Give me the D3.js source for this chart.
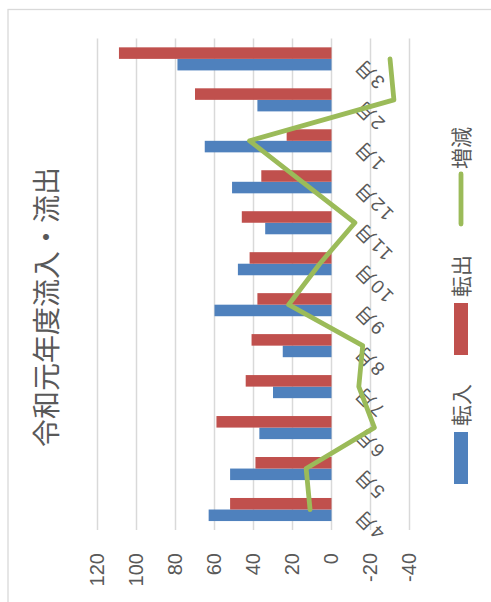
<!DOCTYPE html>
<html><head><meta charset="utf-8">
<script src="https://cdn.jsdelivr.net/npm/d3@7"></script>
<style>html,body{margin:0;padding:0;background:#fff;overflow:hidden}</style>
</head><body>
<svg id="c" width="491" height="602"></svg>
<script>
const months = ["4月","5月","6月","7月","8月","9月","10月","11月","12月","1月","2月","3月"];
const tennyu = [63,52,37,30,25,60,48,34,51,65,38,79];
const tenshutsu = [52,39,59,44,41,38,42,46,36,23,70,109];
const zougen = [11,13,-22,-14,-16,22,6,-12,15,42,-32,-30];
const valueTicks = [120,100,80,60,40,20,0,-20,-40];
const seriesNames = ["転入","転出","増減"];
const colors = ["#4F81BD","#C0504D","#9BBB59"];
const title = "令和元年度流入・流出";

const svg = d3.select("#c");
// border of chart area (display coords)
svg.append("rect").attr("x",8).attr("y",9.5).attr("width",600).attr("height",700)
  .attr("fill","#fff").attr("stroke","#D9D9D9").attr("stroke-width",1.3);

// chart drawn in its original (unrotated) frame, then rotated
const g = svg.append("g").attr("transform","translate(0,602) rotate(-90)");
const font = "'Liberation Sans','Noto Sans CJK JP',sans-serif";
const cj = "'Noto Sans CJK JP',sans-serif";
const txt = "#595959";

const x = d3.scaleBand().domain(months).range([72,563.6]).padding(0);
const y = d3.scaleLinear().domain([-40,120]).range([409.5,97.5]);
const bw = x.step()/3.55;

// gridlines
g.append("g").selectAll("line").data(valueTicks).join("line")
  .attr("x1",72).attr("x2",563.6)
  .attr("y1",d=>y(d)).attr("y2",d=>y(d))
  .attr("stroke","#D9D9D9").attr("stroke-width",1.5);

// value axis labels
const yAxis = d3.axisLeft(y).tickValues(valueTicks).tickSize(0).tickPadding(0).tickFormat(d=>String(d));
const ya = g.append("g").attr("transform","translate(49,0)").call(yAxis);
ya.select(".domain").remove();
ya.selectAll("text").attr("font-family",font).attr("font-size",20).attr("fill",txt);

// bars
const cx = m => x(m) + x.bandwidth()/2;
g.append("g").selectAll("rect").data(months).join("rect")
  .attr("x",(m)=>cx(m)-bw).attr("width",bw)
  .attr("y",(m,i)=>y(Math.max(0,tennyu[i]))).attr("height",(m,i)=>Math.abs(y(tennyu[i])-y(0)))
  .attr("fill",colors[0]);
g.append("g").selectAll("rect").data(months).join("rect")
  .attr("x",(m)=>cx(m)).attr("width",bw)
  .attr("y",(m,i)=>y(Math.max(0,tenshutsu[i]))).attr("height",(m,i)=>Math.abs(y(tenshutsu[i])-y(0)))
  .attr("fill",colors[1]);

// category labels next to axis (value 0)
g.append("g").selectAll("text").data(months).join("text")
  .attr("transform",m=>`translate(${cx(m)-3},${y(0)+26}) rotate(-45)`)
  .attr("text-anchor","end").attr("dy","0.35em").attr("letter-spacing",2)
  .attr("font-family",font).attr("font-size",19).attr("fill",txt)
  .text(m=>m);

// line
const line = d3.line().x((d,i)=>cx(months[i])).y(d=>y(d));
g.append("path").datum(zougen).attr("d",line)
  .attr("fill","none").attr("stroke",colors[2]).attr("stroke-width",4.8)
  .attr("stroke-linejoin","round").attr("stroke-linecap","round");

// title
g.append("text").attr("x",295).attr("y",57).attr("text-anchor","middle")
  .attr("font-family",cj).attr("font-size",28).attr("fill",txt).text(title);

// legend
const lg = g.append("g");
const lv = 461;
lg.append("rect").attr("x",118).attr("y",lv-7).attr("width",52).attr("height",14).attr("fill",colors[0]);
lg.append("text").attr("x",176).attr("y",lv).attr("dy","0.36em").attr("font-family",cj).attr("font-size",21).attr("fill",txt).text(seriesNames[0]);
lg.append("rect").attr("x",247).attr("y",lv-7).attr("width",52).attr("height",14).attr("fill",colors[1]);
lg.append("text").attr("x",305).attr("y",lv).attr("dy","0.36em").attr("font-family",cj).attr("font-size",21).attr("fill",txt).text(seriesNames[1]);
lg.append("line").attr("x1",378).attr("x2",428).attr("y1",lv).attr("y2",lv)
  .attr("stroke",colors[2]).attr("stroke-width",4.8).attr("stroke-linecap","round");
lg.append("text").attr("x",433).attr("y",lv).attr("dy","0.36em").attr("font-family",cj).attr("font-size",21).attr("fill",txt).text(seriesNames[2]);
</script>
</body></html>
